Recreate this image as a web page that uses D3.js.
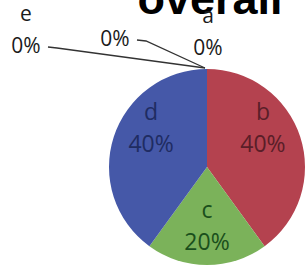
<!DOCTYPE html>
<html><head><meta charset="utf-8">
<script src="https://cdn.jsdelivr.net/npm/d3@7"></script>
<style>
html,body{margin:0;padding:0;background:#fff;overflow:hidden;}
svg{display:block;}
</style></head>
<body>
<svg id="c" width="306" height="270"></svg>
<script>
const title = "overall";
const categories = ["a", "b", "c", "d", "e", ""];
const values = [0, 40, 20, 40, 0, 0];
const colors = ["#4f81bd", "#b4424f", "#7bb25a", "#4558a8", "#8064a2", "#4bacc6"];
const textColors = ["#1a1a1a", "#5a1e28", "#1a4f1c", "#1f2c62", "#1a1a1a", "#1a1a1a"];

const W = 306, H = 270;
const cx = 207, cy = 167, R = 98;
const svg = d3.select("#c");
const font = "'Open Sans', 'Liberation Sans', sans-serif";

// title (cut off at the top)
svg.append("text").attr("x", 210).attr("y", 14)
  .attr("text-anchor", "middle")
  .attr("font-family", "'Liberation Sans', Arial, sans-serif")
  .attr("font-weight", "bold").attr("font-size", 45).attr("fill", "#000")
  .text(title);

const data = categories.map((c, i) => ({name: c, value: values[i], i}));
const total = d3.sum(values);
const pie = d3.pie().sort(null).value(d => d.value).startAngle(0).endAngle(2 * Math.PI);
const arcs = pie(data);
const arc = d3.arc().innerRadius(0).outerRadius(R);
const labelArc = d3.arc().innerRadius(R * 0.6).outerRadius(R * 0.6);
const edgeArc = d3.arc().innerRadius(R).outerRadius(R);

const g = svg.append("g").attr("transform", `translate(${cx},${cy})`);
g.selectAll("path.slice").data(arcs.filter(a => a.value > 0)).join("path")
  .attr("class", "slice")
  .attr("d", arc)
  .attr("fill", d => colors[d.data.i]);

const pct = v => d3.format(".0%")(v / total);

// inside labels
arcs.filter(a => a.value > 0).forEach(a => {
  const [x, y0] = labelArc.centroid(a);
  const y = y0 - 0.37 * Math.abs(x);
  const t = g.append("text").attr("text-anchor", "middle")
    .attr("font-family", font).attr("font-size", 23)
    .attr("fill", textColors[a.data.i]);
  t.append("tspan").attr("x", x).attr("y", y - 8).text(a.data.name);
  t.append("tspan").attr("x", x).attr("y", y + 24).text(pct(a.value));
});

// outside labels for zero-value slices, stacked at the top of the pie
const zero = arcs.filter(a => a.value === 0);
// layout offsets (relative to the pie's top edge point) for stacked outer labels
const outerLayout = [
  {dx: 1, dy: -14, leader: false},
  {dx: -181, dy: -16, leader: true, lx: -159},
  {dx: -92, dy: -23, leader: true, lx: -70}
];
zero.forEach((a, k) => {
  const mid = (a.startAngle + a.endAngle) / 2;
  const p = edgeArc.centroid({startAngle: mid, endAngle: mid});
  const L = outerLayout[k];
  const tx = p[0] + L.dx, ty = p[1] + L.dy;
  const t = g.append("text").attr("text-anchor", "middle")
    .attr("font-family", font).attr("font-size", 21).attr("fill", textColors[a.data.i]);
  if (a.data.name) t.append("tspan").attr("x", tx).attr("y", ty - 32).text(a.data.name);
  t.append("tspan").attr("x", tx).attr("y", ty).text(pct(a.value));
  if (L.leader) {
    const sx = L.lx, sy = ty - 6;
    g.append("path")
      .attr("d", d3.line()([[sx, sy], [sx + 9, sy + 1], [p[0] - 2, p[1] - 1]]))
      .attr("fill", "none").attr("stroke", "#333").attr("stroke-width", 1.3);
  }
});
</script>
</body></html>
